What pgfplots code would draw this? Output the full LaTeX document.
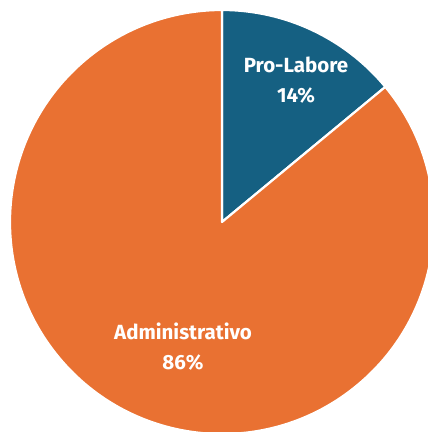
\documentclass[border=0pt]{standalone}
\usepackage{fontspec}
\setmainfont{Fira Sans}
\usepackage{pgfplots}
\pgfplotsset{compat=1.18}
\definecolor{problue}{HTML}{156082}
\definecolor{admorange}{HTML}{E97132}
% shares in percent
\def\valPro{14}
\def\valAdm{86}
\begin{document}
\begin{tikzpicture}
  \begin{axis}[
      width=428pt, height=432pt, scale only axis,
      xmin=0, xmax=428, ymin=0, ymax=432,
      hide axis, clip=true
    ]
    \pgfmathsetmacro{\endPro}{90-3.6*\valPro}
    \pgfmathsetmacro{\endAdm}{\endPro-3.6*\valAdm}
    \draw[white, line width=2.2pt, fill=problue, line join=round]
      (axis cs:222,210) -- ([shift={(90:212pt)}]axis cs:222,210)
      arc[start angle=90, end angle=\endPro, radius=212pt] -- cycle;
    \draw[white, line width=2.2pt, fill=admorange, line join=round]
      (axis cs:222,210) -- ([shift={(\endPro:212pt)}]axis cs:222,210)
      arc[start angle=\endPro, end angle=\endAdm, radius=212pt] -- cycle;
    \node[white, font=\fontsize{20.5}{30}\selectfont\bfseries, align=center]
      at (axis cs:296,352) {Pro-Labore\\\valPro\%};
    \node[white, font=\fontsize{20.5}{30}\selectfont\bfseries, align=center]
      at (axis cs:183,85) {Administrativo\\\valAdm\%};
  \end{axis}
  \pgfresetboundingbox
  \useasboundingbox (0,0) rectangle (428pt,432pt);
\end{tikzpicture}
\end{document}
